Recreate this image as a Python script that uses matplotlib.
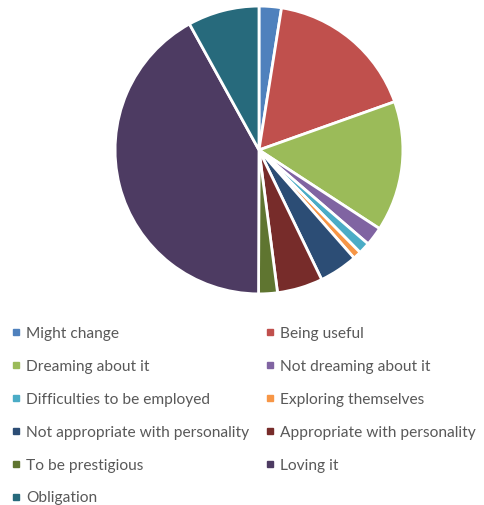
import matplotlib
matplotlib.use("Agg")
from matplotlib import pyplot as plt
from matplotlib.lines import Line2D

labels = ["Might change", "Being useful", "Dreaming about it", "Not dreaming about it",
          "Difficulties to be employed", "Exploring themselves",
          "Not appropriate with personality", "Appropriate with personality",
          "To be prestigious", "Loving it", "Obligation"]
values = [2.5, 17.0, 14.6, 2.1, 1.3, 0.9, 4.3, 5.1, 2.1, 41.8, 8.0]
colors = ["#4F81BD", "#C0504D", "#9BBB59", "#8064A2", "#4BACC6", "#F79646",
          "#2C4D75", "#772C2A", "#5F7530", "#4D3B62", "#276A7C"]

fig = plt.figure(figsize=(4.85, 5.05), dpi=100)
ax = fig.add_axes([0.534 - 0.297, 0.703 - 0.285, 0.594, 0.570])
ax.pie(values, colors=colors, startangle=90, counterclock=False, radius=1,
       wedgeprops=dict(edgecolor="white", linewidth=2))
ax.set_xlim(-1.0, 1.0)
ax.set_ylim(-1.0, 1.0)
ax.set_aspect("equal")
ax.axis("off")

# legend reads row by row, matplotlib fills column by column
order = list(range(0, len(labels), 2)) + list(range(1, len(labels), 2))
handles = [Line2D([], [], marker="s", linestyle="none", markersize=5,
                  markerfacecolor=colors[i], markeredgecolor=colors[i]) for i in order]
leg = fig.legend(handles, [labels[i] for i in order], ncol=2, loc="upper left",
                 bbox_to_anchor=(-0.009, 0.381), frameon=False,
                 handlelength=0.8, handletextpad=0.25, columnspacing=0.95,
                 labelspacing=1.22, prop={"family": "Lato", "size": 11.2})
for t in leg.get_texts():
    t.set_color("#595959")

fig.savefig("out.png", dpi=100)
